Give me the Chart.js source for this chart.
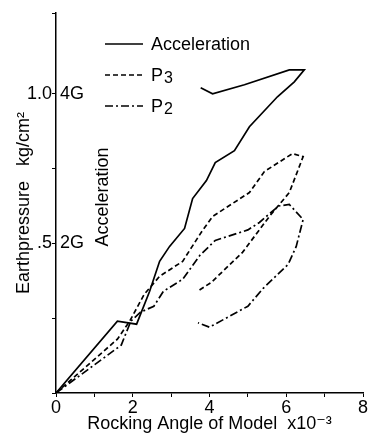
<!DOCTYPE html>
<html>
<head>
<meta charset="utf-8">
<script src="https://cdn.jsdelivr.net/npm/chart.js"></script>
<style>
  html, body { margin: 0; background: #fff; }
  #wrap { width: 371px; height: 436px; }
</style>
</head>
<body>
<div id="wrap"><canvas id="chart"></canvas></div>
<script>
// rocking angle (x10^-3) and readings
const accelAngle = [0, 1.6, 2.1, 2.44, 2.7, 2.96, 3.35, 3.56, 3.92, 4.15, 4.65, 5.04, 5.77, 6.21, 6.47, 6.08, 4.91, 4.08, 3.77];
const accelG = [0, 0.96, 0.92, 1.36, 1.76, 1.96, 2.2, 2.6, 2.84, 3.08, 3.24, 3.56, 3.96, 4.16, 4.32, 4.32, 4.12, 4.0, 4.08];

const p3Angle = [0, 1.6, 1.92, 2.3, 2.7, 3.3, 3.55, 3.8, 4.08, 5.04, 5.43, 6.16, 6.44, 6.08, 5.56, 4.86, 4.05, 3.69];
const p3Pressure = [0, 0.18, 0.24, 0.33, 0.39, 0.44, 0.49, 0.54, 0.59, 0.67, 0.74, 0.80, 0.79, 0.67, 0.59, 0.47, 0.37, 0.34];

const p2Angle = [0, 1.7, 1.95, 2.2, 2.55, 2.8, 3.3, 3.75, 4.15, 5.0, 5.3, 5.8, 6.08, 6.44, 6.26, 6.05, 5.4, 5.0, 4.0, 3.7];
const p2Pressure = [0, 0.16, 0.24, 0.27, 0.29, 0.34, 0.38, 0.46, 0.51, 0.545, 0.57, 0.625, 0.63, 0.58, 0.49, 0.43, 0.35, 0.29, 0.22, 0.235];

// trailing digit of a name is drawn as a subscript
const seriesNames = ['Acceleration', 'P3', 'P2'];
const xLabels = { 0: '0', 2: '2', 4: '4', 6: '6', 8: '8' };
const pressureLabels = { 0.5: '.5', 1: '1.0' };
const accelTicks = [2, 4];
const accelLabels = ['2G', '4G'];

const FONT = "'Liberation Sans', 'DejaVu Sans', sans-serif";

function pts(xs, ys) {
  return xs.map((x, i) => ({ x: x, y: ys[i] }));
}

const extraText = {
  id: 'extraText',
  afterDraw(chart) {
    const ctx = chart.ctx;
    const area = chart.chartArea;
    const acc = chart.scales.yAcc;
    ctx.save();
    ctx.fillStyle = '#000';
    ctx.font = '18px ' + FONT;
    ctx.textBaseline = 'middle';
    ctx.textAlign = 'left';
    accelTicks.forEach((v, i) => {
      ctx.fillText(accelLabels[i], area.left + 4, acc.getPixelForValue(v));
    });
    // vertical acceleration title
    ctx.save();
    ctx.translate(103, 197);
    ctx.rotate(-Math.PI / 2);
    ctx.textAlign = 'center';
    ctx.fillText('Acceleration', 0, 0);
    ctx.restore();
    // key
    chart.data.datasets.forEach((ds, i) => {
      const y = 44 + i * 31;
      ctx.save();
      ctx.strokeStyle = ds.borderColor;
      ctx.lineWidth = ds.borderWidth;
      ctx.setLineDash(ds.borderDash || []);
      ctx.beginPath();
      ctx.moveTo(105, y);
      ctx.lineTo(143, y);
      ctx.stroke();
      ctx.restore();
      const m = ds.label.match(/^(.*?)(\d)$/);
      if (m) {
        ctx.font = '18px ' + FONT;
        ctx.fillText(m[1], 151, y + 1);
        const w = ctx.measureText(m[1]).width;
        ctx.font = '16px ' + FONT;
        ctx.fillText(m[2], 151 + w + 1, y + 4);
        ctx.font = '18px ' + FONT;
      } else {
        ctx.fillText(ds.label, 151, y + 1);
      }
    });
    ctx.restore();
  }
};

new Chart(document.getElementById('chart'), {
  type: 'scatter',
  data: {
    datasets: [
      {
        label: seriesNames[0],
        data: pts(accelAngle, accelG),
        yAxisID: 'yAcc',
        borderColor: '#000',
        borderWidth: 1.7,
        borderDash: [],
      },
      {
        label: seriesNames[1],
        data: pts(p3Angle, p3Pressure),
        yAxisID: 'y',
        borderColor: '#000',
        borderWidth: 1.7,
        borderDash: [5, 3],
      },
      {
        label: seriesNames[2],
        data: pts(p2Angle, p2Pressure),
        yAxisID: 'y',
        borderColor: '#000',
        borderWidth: 1.7,
        borderDash: [8, 3, 2, 3],
      },
    ],
  },
  options: {
    responsive: true,
    maintainAspectRatio: false,
    animation: false,
    showLine: true,
    elements: { point: { radius: 0 }, line: { tension: 0, fill: false } },
    layout: { padding: { top: 13, right: 8, left: 0, bottom: 0 } },
    plugins: { legend: { display: false }, tooltip: { enabled: false } },
    scales: {
      x: {
        type: 'linear',
        min: 0,
        max: 8,
        afterFit: (s) => { s.height = 43; },
        border: { display: true, color: '#000', width: 1.5 },
        grid: { drawOnChartArea: false, drawTicks: true, tickLength: 4, color: '#000' },
        ticks: {
          stepSize: 1,
          autoSkip: false,
          maxRotation: 0,
          padding: 0,
          color: '#000',
          font: { family: FONT, size: 18 },
          callback: (v) => (xLabels[v] !== undefined ? xLabels[v] : ''),
        },
        title: {
          display: true,
          text: 'Rocking Angle of Model  x10⁻³',
          color: '#000',
          font: { family: FONT, size: 18 },
          padding: { top: 0, bottom: 1 },
        },
      },
      y: {
        type: 'linear',
        min: 0,
        max: 1.27,
        afterFit: (s) => { s.width = 56; },
        border: { display: true, color: '#000', width: 1.5 },
        grid: { drawOnChartArea: false, drawTicks: true, tickLength: 4, color: '#000' },
        ticks: {
          stepSize: 0.25,
          includeBounds: true,
          autoSkip: false,
          padding: 0,
          color: '#000',
          font: { family: FONT, size: 18 },
          callback: (v) => (pressureLabels[v] !== undefined ? pressureLabels[v] : ''),
        },
        title: {
          display: true,
          text: 'Earthpressure   kg/cm²',
          color: '#000',
          font: { family: FONT, size: 18 },
          padding: { top: 13, bottom: 0 },
        },
      },
      yAcc: {
        type: 'linear',
        display: false,
        min: 0,
        max: 1.27 * 4,
      },
    },
  },
  plugins: [extraText],
});
</script>
</body>
</html>
